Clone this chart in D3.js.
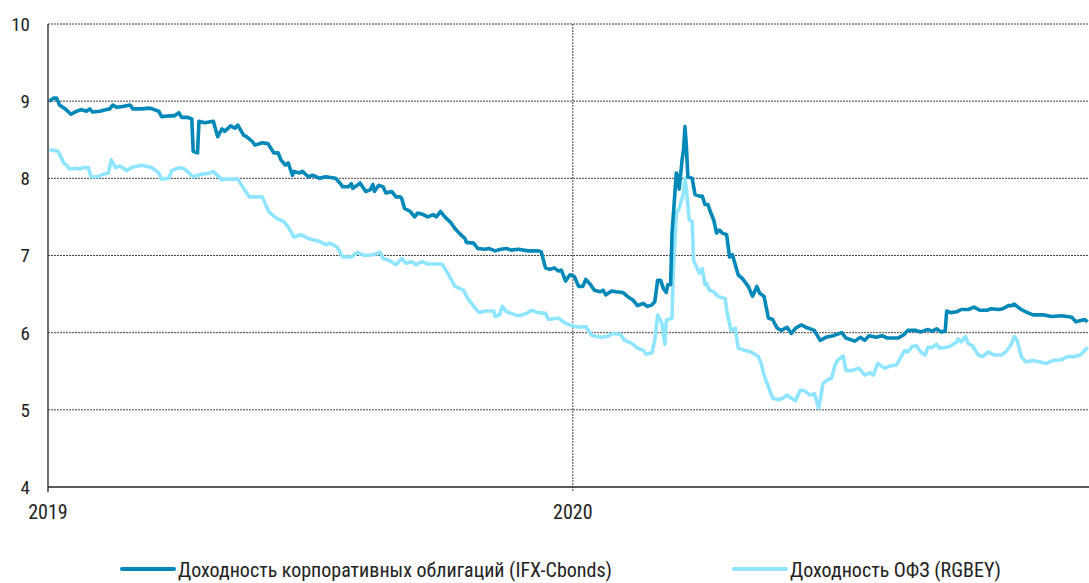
<!DOCTYPE html>
<html>
<head>
<meta charset="utf-8">
<script src="https://cdn.jsdelivr.net/npm/d3@7"></script>
<style>
  body { margin: 0; background: #fff; }
  svg text { font-family: "Liberation Sans Narrow", "Roboto Condensed", Roboto, sans-serif; fill: #222; }
</style>
</head>
<body>
<div class="YieldChart"></div>
<script>
// yields, %
var corpYield = [
  ["2019-01-02",9.00],["2019-01-05",9.04],["2019-01-07",9.04],["2019-01-09",8.95],["2019-01-13",8.90],["2019-01-17",8.83],
  ["2019-01-21",8.87],["2019-01-24",8.89],["2019-01-28",8.87],["2019-01-30",8.90],["2019-02-01",8.86],["2019-02-06",8.87],
  ["2019-02-10",8.89],["2019-02-13",8.90],["2019-02-15",8.95],["2019-02-18",8.92],["2019-02-22",8.93],["2019-02-27",8.95],
  ["2019-03-01",8.90],["2019-03-07",8.90],["2019-03-13",8.91],["2019-03-19",8.87],["2019-03-21",8.80],["2019-03-27",8.81],
  ["2019-03-30",8.81],["2019-04-02",8.85],["2019-04-04",8.79],["2019-04-08",8.79],["2019-04-11",8.77],["2019-04-12",8.35],
  ["2019-04-15",8.33],["2019-04-16",8.74],["2019-04-20",8.72],["2019-04-26",8.74],["2019-04-29",8.54],["2019-05-02",8.64],
  ["2019-05-04",8.61],["2019-05-08",8.68],["2019-05-11",8.65],["2019-05-13",8.69],["2019-05-17",8.56],["2019-05-19",8.54],
  ["2019-05-23",8.48],["2019-05-25",8.43],["2019-05-30",8.46],["2019-06-03",8.45],["2019-06-07",8.33],["2019-06-10",8.33],
  ["2019-06-12",8.24],["2019-06-15",8.17],["2019-06-17",8.20],["2019-06-20",8.04],["2019-06-21",8.09],["2019-06-25",8.07],
  ["2019-06-27",8.09],["2019-07-01",8.02],["2019-07-04",8.04],["2019-07-09",8.00],["2019-07-13",8.02],["2019-07-20",8.00],
  ["2019-07-23",7.94],["2019-07-25",7.89],["2019-07-29",7.89],["2019-07-31",7.93],["2019-08-01",7.87],["2019-08-04",7.91],
  ["2019-08-06",7.94],["2019-08-10",7.83],["2019-08-13",7.85],["2019-08-15",7.92],["2019-08-16",7.83],["2019-08-19",7.91],
  ["2019-08-22",7.89],["2019-08-24",7.81],["2019-08-28",7.83],["2019-08-31",7.76],["2019-09-03",7.76],["2019-09-04",7.74],
  ["2019-09-06",7.61],["2019-09-10",7.57],["2019-09-13",7.50],["2019-09-15",7.55],["2019-09-19",7.53],["2019-09-22",7.50],
  ["2019-09-26",7.53],["2019-09-28",7.50],["2019-10-01",7.57],["2019-10-04",7.50],["2019-10-08",7.43],["2019-10-11",7.35],
  ["2019-10-14",7.29],["2019-10-18",7.22],["2019-10-19",7.17],["2019-10-24",7.16],["2019-10-27",7.09],["2019-11-01",7.08],
  ["2019-11-04",7.09],["2019-11-08",7.06],["2019-11-12",7.08],["2019-11-16",7.09],["2019-11-19",7.07],["2019-11-24",7.08],
  ["2019-12-01",7.06],["2019-12-08",7.06],["2019-12-10",7.05],["2019-12-13",6.84],["2019-12-16",6.82],["2019-12-19",6.84],
  ["2019-12-22",6.80],["2019-12-24",6.81],["2019-12-27",6.67],["2019-12-30",6.75],["2020-01-02",6.73],["2020-01-05",6.60],
  ["2020-01-08",6.60],["2020-01-10",6.69],["2020-01-13",6.63],["2020-01-16",6.55],["2020-01-20",6.53],["2020-01-22",6.55],
  ["2020-01-24",6.49],["2020-01-28",6.54],["2020-01-31",6.53],["2020-02-05",6.52],["2020-02-08",6.47],["2020-02-12",6.42],
  ["2020-02-15",6.35],["2020-02-19",6.38],["2020-02-22",6.34],["2020-02-25",6.36],["2020-02-27",6.40],["2020-02-29",6.68],
  ["2020-03-02",6.68],["2020-03-04",6.57],["2020-03-06",6.52],["2020-03-07",6.62],["2020-03-09",6.62],["2020-03-10",7.29],
  ["2020-03-13",8.07],["2020-03-14",8.02],["2020-03-15",7.86],["2020-03-17",8.24],["2020-03-18",8.37],["2020-03-19",8.67],
  ["2020-03-20",8.41],["2020-03-21",8.02],["2020-03-24",8.00],["2020-03-26",7.79],["2020-03-29",7.77],["2020-03-31",7.77],
  ["2020-04-02",7.66],["2020-04-04",7.66],["2020-04-06",7.55],["2020-04-08",7.46],["2020-04-10",7.29],["2020-04-12",7.33],
  ["2020-04-14",7.29],["2020-04-17",7.27],["2020-04-19",6.98],["2020-04-21",7.01],["2020-04-23",6.88],["2020-04-25",6.75],
  ["2020-04-28",6.70],["2020-05-02",6.60],["2020-05-05",6.47],["2020-05-08",6.60],["2020-05-10",6.51],["2020-05-13",6.47],
  ["2020-05-16",6.19],["2020-05-19",6.17],["2020-05-22",6.06],["2020-05-25",6.03],["2020-05-29",6.07],["2020-06-01",5.99],
  ["2020-06-04",6.06],["2020-06-08",6.10],["2020-06-11",6.07],["2020-06-17",6.03],["2020-06-21",5.90],["2020-06-25",5.94],
  ["2020-06-30",5.96],["2020-07-06",6.00],["2020-07-09",5.93],["2020-07-15",5.89],["2020-07-19",5.94],["2020-07-22",5.90],
  ["2020-07-25",5.96],["2020-07-30",5.94],["2020-08-03",5.96],["2020-08-07",5.93],["2020-08-14",5.93],["2020-08-18",5.97],
  ["2020-08-21",6.03],["2020-08-26",6.03],["2020-08-30",6.01],["2020-09-04",6.04],["2020-09-07",6.02],["2020-09-10",6.05],
  ["2020-09-13",6.01],["2020-09-16",6.02],["2020-09-17",6.28],["2020-09-20",6.26],["2020-09-24",6.27],["2020-09-27",6.30],
  ["2020-10-02",6.30],["2020-10-06",6.33],["2020-10-10",6.29],["2020-10-15",6.29],["2020-10-18",6.31],["2020-10-23",6.30],
  ["2020-10-26",6.31],["2020-10-30",6.35],["2020-11-01",6.35],["2020-11-03",6.37],["2020-11-07",6.31],["2020-11-11",6.27],
  ["2020-11-16",6.23],["2020-11-19",6.23],["2020-11-24",6.23],["2020-11-29",6.21],["2020-12-06",6.22],["2020-12-13",6.20],
  ["2020-12-16",6.14],["2020-12-20",6.16],["2020-12-22",6.17],["2020-12-24",6.14]
];

var ofzYield = [
  ["2019-01-02",8.37],["2019-01-08",8.35],["2019-01-12",8.20],["2019-01-14",8.17],["2019-01-16",8.12],["2019-01-21",8.13],
  ["2019-01-23",8.12],["2019-01-26",8.14],["2019-01-29",8.14],["2019-01-31",8.02],["2019-02-05",8.02],["2019-02-08",8.05],
  ["2019-02-12",8.07],["2019-02-14",8.24],["2019-02-17",8.14],["2019-02-20",8.16],["2019-02-25",8.10],["2019-02-28",8.14],
  ["2019-03-07",8.17],["2019-03-14",8.14],["2019-03-19",8.07],["2019-03-21",7.99],["2019-03-26",8.00],["2019-03-28",8.10],
  ["2019-04-02",8.14],["2019-04-06",8.12],["2019-04-12",8.02],["2019-04-17",8.05],["2019-04-24",8.07],["2019-04-26",8.09],
  ["2019-05-02",7.98],["2019-05-05",7.99],["2019-05-13",7.99],["2019-05-17",7.87],["2019-05-21",7.76],["2019-05-30",7.76],
  ["2019-06-02",7.63],["2019-06-04",7.56],["2019-06-09",7.48],["2019-06-14",7.44],["2019-06-17",7.37],["2019-06-21",7.24],
  ["2019-06-26",7.27],["2019-07-01",7.22],["2019-07-09",7.18],["2019-07-13",7.14],["2019-07-16",7.16],["2019-07-21",7.11],
  ["2019-07-25",6.98],["2019-07-31",6.98],["2019-08-04",7.04],["2019-08-09",7.00],["2019-08-15",7.01],["2019-08-20",7.04],
  ["2019-08-22",6.96],["2019-08-27",6.93],["2019-08-31",6.88],["2019-09-04",6.96],["2019-09-07",6.90],["2019-09-11",6.92],
  ["2019-09-14",6.88],["2019-09-18",6.92],["2019-09-22",6.89],["2019-10-02",6.89],["2019-10-06",6.77],["2019-10-11",6.60],
  ["2019-10-17",6.55],["2019-10-20",6.44],["2019-10-25",6.32],["2019-10-28",6.26],["2019-11-01",6.28],["2019-11-07",6.28],
  ["2019-11-08",6.21],["2019-11-11",6.23],["2019-11-13",6.34],["2019-11-16",6.27],["2019-11-22",6.23],["2019-11-25",6.22],
  ["2019-11-30",6.25],["2019-12-03",6.29],["2019-12-08",6.26],["2019-12-13",6.25],["2019-12-15",6.17],["2019-12-22",6.19],
  ["2019-12-26",6.13],["2019-12-30",6.10],["2020-01-02",6.08],["2020-01-06",6.07],["2020-01-10",6.08],["2020-01-14",5.97],
  ["2020-01-17",5.95],["2020-01-22",5.94],["2020-01-26",5.96],["2020-01-29",5.99],["2020-02-03",5.98],["2020-02-06",5.90],
  ["2020-02-11",5.86],["2020-02-15",5.80],["2020-02-19",5.77],["2020-02-21",5.72],["2020-02-25",5.74],["2020-02-27",5.90],
  ["2020-02-29",6.23],["2020-03-03",6.12],["2020-03-05",5.85],["2020-03-06",6.16],["2020-03-10",6.19],["2020-03-11",6.85],
  ["2020-03-13",7.55],["2020-03-15",7.61],["2020-03-18",7.81],["2020-03-19",8.00],["2020-03-20",7.85],["2020-03-22",7.46],
  ["2020-03-24",7.44],["2020-03-25",6.94],["2020-03-27",6.85],["2020-03-29",6.77],["2020-03-31",6.83],["2020-04-02",6.62],
  ["2020-04-03",6.64],["2020-04-05",6.55],["2020-04-08",6.53],["2020-04-11",6.47],["2020-04-16",6.44],["2020-04-17",6.29],
  ["2020-04-20",6.03],["2020-04-23",6.06],["2020-04-25",5.80],["2020-04-30",5.77],["2020-05-04",5.75],["2020-05-09",5.69],
  ["2020-05-11",5.60],["2020-05-13",5.45],["2020-05-16",5.30],["2020-05-19",5.15],["2020-05-23",5.13],["2020-05-26",5.15],
  ["2020-05-29",5.19],["2020-06-01",5.15],["2020-06-04",5.12],["2020-06-07",5.25],["2020-06-10",5.25],["2020-06-14",5.19],
  ["2020-06-17",5.21],["2020-06-20",5.02],["2020-06-23",5.34],["2020-06-26",5.39],["2020-06-29",5.41],["2020-07-01",5.56],
  ["2020-07-03",5.64],["2020-07-07",5.70],["2020-07-09",5.51],["2020-07-13",5.51],["2020-07-18",5.54],["2020-07-22",5.45],
  ["2020-07-26",5.48],["2020-07-28",5.45],["2020-07-31",5.60],["2020-08-05",5.54],["2020-08-09",5.57],["2020-08-13",5.58],
  ["2020-08-17",5.71],["2020-08-19",5.77],["2020-08-21",5.75],["2020-08-24",5.82],["2020-08-27",5.83],["2020-08-30",5.75],
  ["2020-09-02",5.71],["2020-09-04",5.81],["2020-09-07",5.81],["2020-09-10",5.85],["2020-09-12",5.80],["2020-09-17",5.81],
  ["2020-09-20",5.83],["2020-09-24",5.88],["2020-09-25",5.92],["2020-09-27",5.88],["2020-09-30",5.95],["2020-10-02",5.86],
  ["2020-10-05",5.83],["2020-10-09",5.71],["2020-10-12",5.69],["2020-10-16",5.75],["2020-10-20",5.71],["2020-10-25",5.71],
  ["2020-10-28",5.75],["2020-11-01",5.85],["2020-11-03",5.95],["2020-11-05",5.90],["2020-11-08",5.69],["2020-11-11",5.62],
  ["2020-11-16",5.64],["2020-11-21",5.62],["2020-11-25",5.60],["2020-11-30",5.64],["2020-12-06",5.65],["2020-12-10",5.69],
  ["2020-12-15",5.69],["2020-12-19",5.71],["2020-12-22",5.77],["2020-12-24",5.81]
];

var yTicks = [4, 5, 6, 7, 8, 9, 10];
var xTicks = ["2019-01-01", "2020-01-01"];
var xTickLabels = ["2019", "2020"];
var seriesNames = ["Доходность корпоративных облигаций (IFX-Cbonds)", "Доходность ОФЗ (RGBEY)"];
var seriesColors = ["#0088b9", "#8fe5ff"];

var margin = {top: 24, right: 0, bottom: 96, left: 48},
    width = 1089 - margin.left - margin.right,
    height = 583 - margin.top - margin.bottom;

var parseDate = d3.timeParse("%Y-%m-%d");

var svg = d3.select(".YieldChart").append("svg")
    .attr("width", width + margin.left + margin.right)
    .attr("height", height + margin.top + margin.bottom)
  .append("g")
    .attr("transform", "translate(" + margin.left + "," + margin.top + ")");

var x = d3.scaleTime()
    .domain([parseDate("2019-01-01"), parseDate("2020-12-25")])
    .range([0, width]);

var y = d3.scaleLinear()
    .domain([4, 10])
    .range([height, 0]);

// horizontal dotted grid
svg.append("g")
    .attr("class", "grid")
  .selectAll("line")
    .data(yTicks.filter(function(d){ return d > 4; }))
    .enter().append("line")
    .attr("x1", 0)
    .attr("x2", width)
    .attr("y1", function(d){ return y(d); })
    .attr("y2", function(d){ return y(d); })
    .attr("stroke", "#444")
    .attr("stroke-width", 1)
    .attr("stroke-dasharray", "2,1");

// vertical dotted grid at year starts (after the first)
svg.append("g")
  .selectAll("line")
    .data(xTicks.slice(1))
    .enter().append("line")
    .attr("x1", function(d){ return x(parseDate(d)); })
    .attr("x2", function(d){ return x(parseDate(d)); })
    .attr("y1", 0)
    .attr("y2", height + 5)
    .attr("stroke", "#444")
    .attr("stroke-width", 1)
    .attr("stroke-dasharray", "2,1");

var line = d3.line()
    .x(function(d){ return x(parseDate(d[0])); })
    .y(function(d){ return y(d[1]); });

svg.append("path")
    .datum(ofzYield)
    .attr("fill", "none")
    .attr("stroke", seriesColors[1])
    .attr("stroke-width", 3.6)
    .attr("stroke-linejoin", "round")
    .attr("d", line);

svg.append("path")
    .datum(corpYield)
    .attr("fill", "none")
    .attr("stroke", seriesColors[0])
    .attr("stroke-width", 3.6)
    .attr("stroke-linejoin", "round")
    .attr("d", line);

// axes lines
svg.append("line")
    .attr("x1", 0).attr("x2", 0)
    .attr("y1", 0).attr("y2", height + 5)
    .attr("stroke", "#333")
    .attr("stroke-width", 1.4);

svg.append("line")
    .attr("x1", 0).attr("x2", width)
    .attr("y1", height).attr("y2", height)
    .attr("stroke", "#222")
    .attr("stroke-width", 1.4);

// tick labels
svg.append("g")
  .selectAll("text")
    .data(yTicks)
    .enter().append("text")
    .attr("x", -18)
    .attr("y", function(d){ return y(d); })
    .attr("dy", "0.36em")
    .attr("text-anchor", "end")
    .style("font-size", "19px")
    .text(function(d){ return d; });

svg.append("g")
  .selectAll("text")
    .data(xTicks)
    .enter().append("text")
    .attr("x", function(d){ return x(parseDate(d)); })
    .attr("y", height + 32)
    .attr("text-anchor", "middle")
    .style("font-size", "20px")
    .text(function(d, i){ return xTickLabels[i]; });

// legend
var legendX = [74, 686];
var legend = svg.append("g")
    .attr("transform", "translate(0," + (height + 82) + ")");

legend.selectAll("line")
    .data(seriesNames)
    .enter().append("line")
    .attr("x1", function(d, i){ return legendX[i]; })
    .attr("x2", function(d, i){ return legendX[i] + 52; })
    .attr("y1", 0).attr("y2", 0)
    .attr("stroke", function(d, i){ return seriesColors[i]; })
    .attr("stroke-width", 4)
    .attr("stroke-linecap", "round");

legend.selectAll("text")
    .data(seriesNames)
    .enter().append("text")
    .attr("x", function(d, i){ return legendX[i] + 56; })
    .attr("y", 0)
    .attr("dy", "0.38em")
    .style("font-size", "20px")
    .text(function(d){ return d; });
</script>
</body>
</html>
